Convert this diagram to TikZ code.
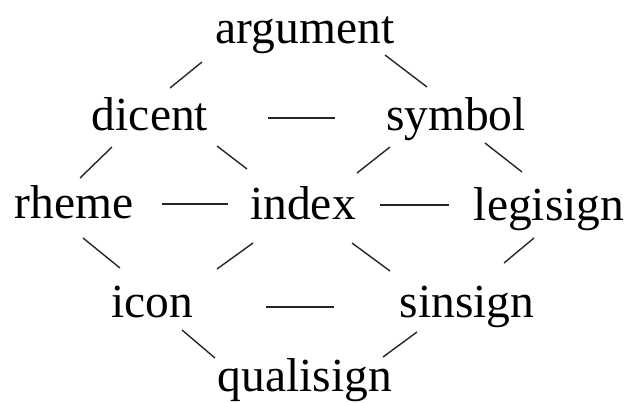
\documentclass[tikz,border=0pt]{standalone}
\usepackage{fontspec}
\setmainfont{Liberation Serif}
\usetikzlibrary{calc}
\tikzset{
  term/.style={inner sep=0pt, outer sep=0pt, anchor=base, font=\fontsize{47.5}{57}\selectfont},
  link/.style={line width=1.4pt, draw=black!85}
}
\begin{document}
\begin{tikzpicture}[x=1pt,y=-1pt]
\useasboundingbox (0,0) rectangle (627,402);
\node[term] (argument)  at (305,43)  {argument};
\node[term] (dicent)    at (150,130) {dicent};
\node[term] (symbol)    at (456,130) {symbol};
\node[term] (rheme)     at (74,218)  {rheme};
\node[term] (index)     at (303,219) {index};
\node[term] (legisign)  at (549,220) {legisign};
\node[term] (icon)      at (152,317) {icon};
\node[term] (sinsign)   at (467,317) {sinsign};
\node[term] (qualisign) at (305,391) {qualisign};

\draw[link] ($(argument.base)+(-103,19)$) -- ($(dicent.base)+(20,-42)$);
\draw[link] ($(argument.base)+(80,12)$)   -- ($(symbol.base)+(-29,-43)$);
\draw[link] ($(dicent.base)+(118,-12)$)   -- ($(symbol.base)+(-121,-12)$);
\draw[link] ($(dicent.base)+(-38,17)$)    -- ($(rheme.base)+(6,-40)$);
\draw[link] ($(dicent.base)+(67,16)$)     -- ($(index.base)+(-56,-50)$);
\draw[link] ($(symbol.base)+(-66,17)$)    -- ($(index.base)+(54,-46)$);
\draw[link] ($(symbol.base)+(29,13)$)     -- ($(legisign.base)+(-27,-48)$);
\draw[link] ($(rheme.base)+(88,-14)$)     -- ($(index.base)+(-75,-15)$);
\draw[link] ($(index.base)+(77,-14)$)     -- ($(legisign.base)+(-100,-15)$);
\draw[link] ($(rheme.base)+(9,20)$)       -- ($(icon.base)+(-32,-49)$);
\draw[link] ($(index.base)+(-50,24)$)     -- ($(icon.base)+(65,-48)$);
\draw[link] ($(index.base)+(49,24)$)      -- ($(sinsign.base)+(-77,-46)$);
\draw[link] ($(legisign.base)+(-15,18)$)  -- ($(sinsign.base)+(37,-54)$);
\draw[link] ($(icon.base)+(114,-10)$)     -- ($(sinsign.base)+(-133,-10)$);
\draw[link] ($(icon.base)+(30,13)$)       -- ($(qualisign.base)+(-90,-33)$);
\draw[link] ($(sinsign.base)+(-50,15)$)   -- ($(qualisign.base)+(78,-34)$);
\end{tikzpicture}
\end{document}
